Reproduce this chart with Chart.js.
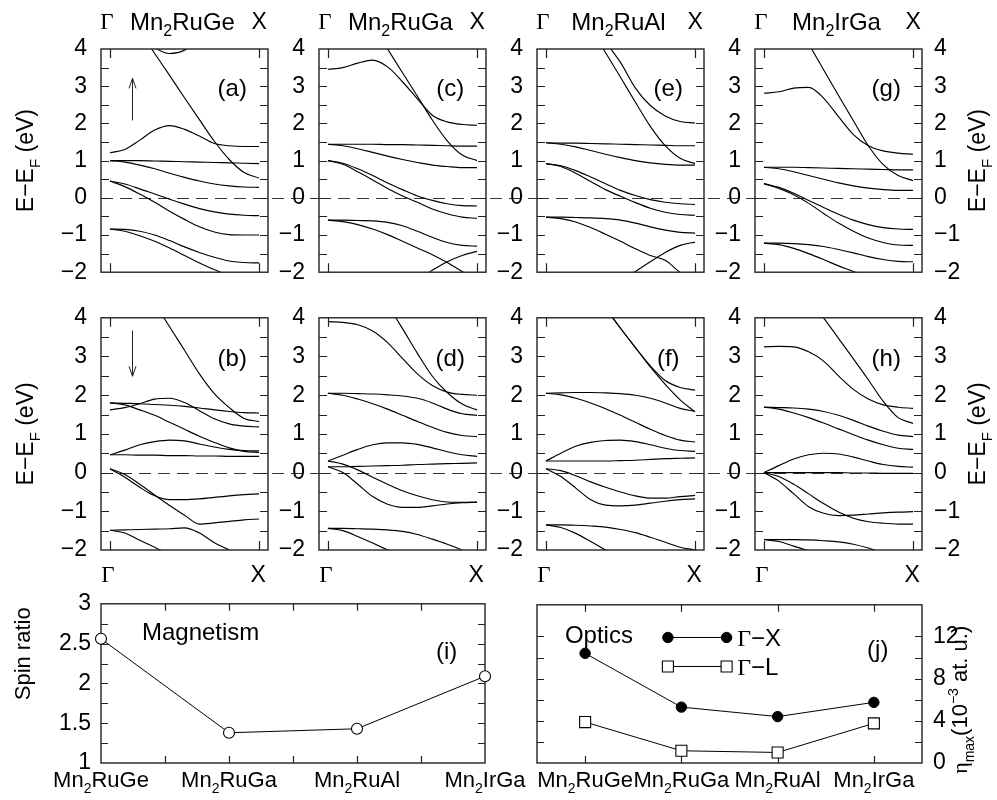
<!DOCTYPE html>
<html>
<head>
<meta charset="utf-8">
<script src="https://cdn.jsdelivr.net/npm/chart.js@4.4.1/dist/chart.umd.min.js"></script>
<style>
  body { margin: 0; background: #fff; }
  #fig { position: relative; width: 997px; height: 800px; overflow: hidden; }
  #fig canvas { position: absolute; }
</style>
</head>
<body>
<div id="fig"></div>
<script>
// k along the path, Gamma = 0, X = 1
var kPath = [0, 0.1, 0.2, 0.3, 0.4, 0.5, 0.6, 0.7, 0.8, 0.9, 1.0];

// band energies (eV), one row per band
var bandsA = [ // Mn2RuGe spin up
  [null, null, 4.4, 4.04, 3.88, 3.97, 4.3, null, null, null, null],
  [5.6, 5.06, 4.47, 3.88, 3.29, 2.69, 2.10, 1.52, 1.03, 0.68, 0.53],
  [1.21, 1.30, 1.55, 1.82, 1.94, 1.84, 1.66, 1.46, 1.40, 1.38, 1.38],
  [1.0, 1.0, 1.0, 0.99, 0.98, 0.97, 0.96, 0.95, 0.94, 0.93, 0.92],
  [1.0, 0.96, 0.88, 0.78, 0.66, 0.55, 0.45, 0.37, 0.32, 0.29, 0.28],
  [0.45, 0.37, 0.24, 0.10, -0.04, -0.17, -0.29, -0.38, -0.44, -0.47, -0.48],
  [0.45, 0.30, 0.10, -0.12, -0.36, -0.58, -0.78, -0.92, -0.99, -1.0, -1.0],
  [-0.84, -0.85, -0.90, -1.0, -1.15, -1.32, -1.47, -1.60, -1.70, -1.74, -1.75],
  [-0.84, -0.90, -1.02, -1.17, -1.35, -1.55, -1.75, -1.93, -2.10, -2.25, -2.35]
];
var bandsB = [ // Mn2RuGe spin down
  [null, 5.5, 4.95, 4.37, 3.77, 3.16, 2.55, 2.04, 1.68, 1.40, 1.32],
  [1.80, 1.79, 1.78, 1.76, 1.74, 1.71, 1.67, 1.62, 1.58, 1.55, 1.54],
  [1.62, 1.68, 1.78, 1.90, 1.92, 1.81, 1.60, 1.39, 1.26, 1.20, 1.18],
  [1.80, 1.75, 1.62, 1.48, 1.30, 1.12, 0.94, 0.78, 0.64, 0.55, 0.52],
  [0.46, 0.58, 0.72, 0.80, 0.84, 0.82, 0.74, 0.66, 0.60, 0.57, 0.56],
  [0.46, 0.46, 0.45, 0.45, 0.44, 0.44, 0.43, 0.43, 0.42, 0.42, 0.42],
  [0.10, -0.12, -0.38, -0.60, -0.70, -0.70, -0.68, -0.64, -0.60, -0.57, -0.55],
  [0.10, -0.05, -0.30, -0.58, -0.85, -1.10, -1.33, -1.30, -1.26, -1.22, -1.20],
  [-1.49, -1.48, -1.47, -1.46, -1.45, -1.43, -1.56, -1.81, -2.0, -2.2, null],
  [-1.49, -1.56, -1.75, -1.93, -2.12, null, null, null, null, null, null]
];
var bandsC = [ // Mn2RuGa spin up
  [3.45, 3.50, 3.62, 3.70, 3.52, 3.12, 2.66, 2.22, 2.04, 1.97, 1.95],
  [6.5, 5.88, 5.25, 4.63, 4.0, 3.36, 2.73, 2.09, 1.53, 1.15, 1.0],
  [1.44, 1.44, 1.44, 1.44, 1.43, 1.43, 1.42, 1.41, 1.40, 1.39, 1.39],
  [1.44, 1.40, 1.32, 1.22, 1.12, 1.03, 0.95, 0.88, 0.84, 0.81, 0.81],
  [1.0, 0.93, 0.78, 0.60, 0.40, 0.22, 0.05, -0.07, -0.16, -0.21, -0.22],
  [1.0, 0.90, 0.70, 0.48, 0.25, 0.05, -0.12, -0.30, -0.43, -0.52, -0.55],
  [-0.60, -0.60, -0.61, -0.62, -0.66, -0.75, -0.90, -1.06, -1.20, -1.28, -1.30],
  [-0.60, -0.64, -0.72, -0.84, -0.99, -1.17, -1.35, -1.53, -1.74, -1.98, -2.2],
  [null, null, null, null, null, null, -2.2, -1.95, -1.72, -1.55, -1.44]
];
var bandsD = [ // Mn2RuGa spin down
  [3.90, 3.88, 3.82, 3.66, 3.36, 2.95, 2.55, 2.25, 2.08, 2.02, 2.0],
  [null, null, 5.6, 5.0, 4.35, 3.72, 3.08, 2.49, 2.07, 1.77, 1.62],
  [2.05, 2.05, 2.04, 2.03, 2.01, 1.98, 1.92, 1.80, 1.64, 1.52, 1.48],
  [2.05, 2.0, 1.90, 1.78, 1.64, 1.48, 1.32, 1.17, 1.04, 0.96, 0.93],
  [0.30, 0.45, 0.60, 0.72, 0.77, 0.77, 0.73, 0.64, 0.54, 0.46, 0.42],
  [0.15, 0.15, 0.16, 0.17, 0.18, 0.19, 0.21, 0.22, 0.23, 0.24, 0.25],
  [0.30, 0.22, 0.07, -0.12, -0.30, -0.47, -0.60, -0.70, -0.76, -0.77, -0.76],
  [0.15, 0.0, -0.30, -0.62, -0.82, -0.90, -0.90, -0.86, -0.81, -0.78, -0.77],
  [-1.44, -1.44, -1.45, -1.46, -1.48, -1.52, -1.60, -1.72, -1.85, -2.0, -2.15],
  [-1.44, -1.50, -1.65, -1.82, -2.0, -2.2, null, null, null, null, null]
];
var bandsE = [ // Mn2RuAl spin up
  [6.6, 5.9, 5.24, 4.57, 3.9, 3.24, 2.57, 1.92, 1.40, 1.06, 0.92],
  [null, null, 5.5, 4.85, 4.2, 3.64, 2.95, 2.48, 2.2, 2.05, 2.01],
  [1.48, 1.47, 1.47, 1.46, 1.45, 1.44, 1.43, 1.42, 1.41, 1.40, 1.40],
  [1.48, 1.44, 1.37, 1.27, 1.17, 1.08, 1.0, 0.94, 0.90, 0.88, 0.88],
  [0.92, 0.86, 0.73, 0.56, 0.38, 0.20, 0.06, -0.05, -0.12, -0.16, -0.18],
  [0.92, 0.84, 0.66, 0.44, 0.22, 0.04, -0.13, -0.28, -0.39, -0.45, -0.47],
  [-0.52, -0.52, -0.53, -0.54, -0.56, -0.60, -0.68, -0.78, -0.87, -0.93, -0.95],
  [-0.52, -0.56, -0.65, -0.80, -0.98, -1.17, -1.37, -1.55, -1.68, -2.0, -2.2],
  [null, null, null, null, null, -2.25, -1.98, -1.72, -1.47, -1.28, -1.19]
];
var bandsF = [ // Mn2RuAl spin down
  [null, null, null, 4.8, 4.25, 3.73, 3.23, 2.73, 2.28, 1.88, 1.57],
  [null, null, null, 4.8, 4.25, 3.73, 3.23, 2.76, 2.38, 2.20, 2.13],
  [2.05, 2.06, 2.07, 2.07, 2.06, 2.04, 2.0, 1.92, 1.80, 1.66, 1.58],
  [2.05, 2.01, 1.92, 1.80, 1.65, 1.48, 1.30, 1.12, 0.96, 0.84, 0.79],
  [0.30, 0.50, 0.68, 0.78, 0.83, 0.84, 0.80, 0.72, 0.63, 0.57, 0.55],
  [0.30, 0.30, 0.30, 0.30, 0.30, 0.31, 0.32, 0.34, 0.36, 0.37, 0.38],
  [0.10, 0.05, -0.08, -0.24, -0.38, -0.50, -0.60, -0.66, -0.66, -0.62, -0.59],
  [0.10, -0.10, -0.40, -0.70, -0.84, -0.86, -0.84, -0.79, -0.74, -0.70, -0.68],
  [-1.35, -1.35, -1.36, -1.38, -1.41, -1.47, -1.55, -1.67, -1.80, -1.93, -2.0],
  [-1.35, -1.42, -1.57, -1.78, -2.0, -2.2, null, null, null, null, null]
];
var bandsG = [ // Mn2IrGa spin up
  [6.2, 5.52, 4.83, 4.14, 3.44, 2.75, 2.07, 1.40, 0.89, 0.60, 0.46],
  [2.81, 2.85, 2.95, 2.97, 2.68, 2.18, 1.70, 1.40, 1.26, 1.20, 1.17],
  [0.82, 0.82, 0.82, 0.81, 0.80, 0.79, 0.78, 0.77, 0.76, 0.75, 0.75],
  [0.82, 0.78, 0.70, 0.60, 0.50, 0.40, 0.32, 0.26, 0.22, 0.20, 0.20],
  [0.38, 0.28, 0.12, -0.07, -0.26, -0.44, -0.60, -0.72, -0.80, -0.84, -0.85],
  [0.38, 0.25, 0.08, -0.15, -0.42, -0.68, -0.90, -1.08, -1.20, -1.27, -1.28],
  [-1.22, -1.22, -1.23, -1.26, -1.31, -1.39, -1.48, -1.58, -1.66, -1.71, -1.72],
  [-1.22, -1.26, -1.36, -1.50, -1.66, -1.83, -1.98, -2.15, null, null, null]
];
var bandsH = [ // Mn2IrGa spin down
  [null, null, 5.0, 4.5, 4.0, 3.47, 2.94, 2.40, 1.84, 1.42, 1.27],
  [3.25, 3.26, 3.25, 3.12, 2.88, 2.50, 2.15, 1.90, 1.75, 1.69, 1.66],
  [1.69, 1.68, 1.67, 1.64, 1.58, 1.48, 1.35, 1.20, 1.07, 0.97, 0.93],
  [1.69, 1.64, 1.54, 1.42, 1.28, 1.13, 0.98, 0.84, 0.72, 0.63, 0.60],
  [0.0, 0.18, 0.35, 0.46, 0.50, 0.48, 0.40, 0.30, 0.21, 0.16, 0.14],
  [0.0, 0.0, 0.0, 0.0, 0.0, 0.0, -0.01, -0.01, -0.02, -0.02, -0.02],
  [0.0, -0.10, -0.30, -0.55, -0.80, -1.02, -1.18, -1.27, -1.31, -1.33, -1.33],
  [0.0, -0.22, -0.55, -0.88, -1.05, -1.11, -1.10, -1.07, -1.04, -1.02, -1.01],
  [-1.73, -1.73, -1.73, -1.74, -1.76, -1.79, -1.85, -1.95, -2.08, -2.2, null],
  [-1.73, -1.78, -1.90, -2.02, -2.15, null, null, null, null, null, null]
];

var compounds = ['Mn2RuGe', 'Mn2RuGa', 'Mn2RuAl', 'Mn2IrGa'];
var spinRatio = [2.56, 1.38, 1.43, 2.09];
var etaGX = [10.4, 5.3, 4.4, 5.75];
var etaGL = [3.88, 1.16, 1.0, 3.76];
var opticsLabels = ['\u0393\u2212X', '\u0393\u2212L'];

var SANS = '"Liberation Sans", Arial, Helvetica, sans-serif';
var SERIF = '"Liberation Serif", "Times New Roman", serif';
Chart.defaults.font.family = SANS;
Chart.defaults.color = '#000';

var fig = document.getElementById('fig');
function makeCanvas(left, top, w, h) {
  var c = document.createElement('canvas');
  c.width = w; c.height = h;
  c.style.left = left + 'px'; c.style.top = top + 'px';
  c.style.width = w + 'px'; c.style.height = h + 'px';
  fig.appendChild(c);
  return c;
}

// text with sub/superscripts, centred on (x, y)
function richText(ctx, parts, x, y, size, opts) {
  opts = opts || {};
  ctx.save();
  ctx.translate(x, y);
  if (opts.rotate) ctx.rotate(opts.rotate);
  ctx.fillStyle = '#000';
  ctx.textAlign = 'left';
  ctx.textBaseline = 'alphabetic';
  var ws = parts.map(function(p) {
    ctx.font = Math.round(size * (p.scale || 1)) + 'px ' + (p.family || SANS);
    return ctx.measureText(p.t).width;
  });
  var total = ws.reduce(function(s, w) { return s + w; }, 0);
  var cx = opts.align === 'left' ? 0 : -total / 2;
  parts.forEach(function(p, i) {
    ctx.font = Math.round(size * (p.scale || 1)) + 'px ' + (p.family || SANS);
    ctx.fillText(p.t, cx, size * 0.36 + (p.dy || 0) * size);
    cx += ws[i];
  });
  ctx.restore();
}
function formulaParts(name) {
  return name.split(/(\d+)/).filter(Boolean).map(function(s) {
    return /^\d+$/.test(s) ? {t: s, scale: 0.65, dy: 0.28} : {t: s};
  });
}
function gammaParts(label) {
  return [{t: label.charAt(0), family: SERIF}, {t: label.slice(1)}];
}
var eTitle = [{t: 'E\u2212E'}, {t: 'F', scale: 0.65, dy: 0.28}, {t: ' (eV)'}];

function intLabel(v) {
  return Math.abs(v - Math.round(v)) < 1e-6 ? String(Math.round(v)).replace('-', '\u2212') : '';
}

var bandDecor = {
  id: 'bandDecor',
  beforeDatasetsDraw: function(chart, args, o) {
    var ctx = chart.ctx, a = chart.chartArea;
    var y0 = Math.round(chart.scales.y.getPixelForValue(0)) + 0.5;
    ctx.save();
    ctx.strokeStyle = '#333';
    ctx.lineWidth = 1;
    ctx.setLineDash([12, 7]);
    ctx.beginPath();
    ctx.moveTo(a.left, y0);
    ctx.lineTo(a.right + o.extend, y0);
    ctx.stroke();
    ctx.restore();
  },
  afterDatasetsDraw: function(chart, args, o) {
    var ctx = chart.ctx, a = chart.chartArea, xs = chart.scales.x, ys = chart.scales.y;
    ctx.save();
    ctx.strokeStyle = '#222';
    ctx.lineWidth = 1.4;
    ctx.strokeRect(a.left, a.top, a.right - a.left, a.bottom - a.top);
    ctx.lineWidth = 1.2;
    ctx.beginPath();
    ys.ticks.forEach(function(t) {
      if (t.value <= ys.min || t.value >= ys.max) return;
      var py = Math.round(ys.getPixelForValue(t.value)) + 0.5;
      ctx.moveTo(a.left, py); ctx.lineTo(a.left + 8, py);
      ctx.moveTo(a.right, py); ctx.lineTo(a.right - 8, py);
    });
    var x0 = xs.getPixelForValue(kPath[0]), x1 = xs.getPixelForValue(kPath[kPath.length - 1]);
    [x0, x1].forEach(function(px) {
      px = Math.round(px) + 0.5;
      ctx.moveTo(px, a.top); ctx.lineTo(px, a.top + 9);
      ctx.moveTo(px, a.bottom); ctx.lineTo(px, a.bottom - 9);
    });
    ctx.stroke();

    if (o.row === 0) {
      var ty = a.top - 28;
      richText(ctx, [{t: '\u0393', family: SERIF}], x0 - 3, ty, 23);
      richText(ctx, formulaParts(o.name), (a.left + a.right) / 2 - 2, ty, 24);
      richText(ctx, [{t: 'X'}], x1, ty, 23);
    } else {
      var by = a.bottom + 24;
      richText(ctx, [{t: '\u0393', family: SERIF}], x0 - 2, by, 23);
      richText(ctx, [{t: 'X'}], x1 - 1, by, 23);
    }
    richText(ctx, [{t: o.tag}], xs.getPixelForValue(0.82), ys.getPixelForValue(2.98), 24);

    if (o.arrow) {
      var up = o.arrow === 'up';
      var ax = Math.round(xs.getPixelForValue(0.145)) + 0.5;
      var yTail = ys.getPixelForValue(up ? 2.08 : 3.67);
      var yHead = ys.getPixelForValue(up ? 3.21 : 2.49);
      var d = up ? 1 : -1;
      ctx.lineWidth = 1;
      ctx.beginPath();
      ctx.moveTo(ax, yTail); ctx.lineTo(ax, yHead);
      ctx.moveTo(ax - 3.5, yHead + d * 10); ctx.lineTo(ax, yHead); ctx.lineTo(ax + 3.5, yHead + d * 10);
      ctx.stroke();
    }
    var cy = (a.top + a.bottom) / 2;
    if (o.leftTitle) richText(ctx, eTitle, a.left - 76, cy, 23, {rotate: -Math.PI / 2});
    if (o.rightTitle) richText(ctx, eTitle, a.right + 55, cy, 23, {rotate: -Math.PI / 2});
    ctx.restore();
  }
};

var colLeft = [101, 319, 537, 755];
var rowTop = [49, 313];
var panelW = 167, panelH = 237;

var panels = [
  {bands: bandsA, name: compounds[0], tag: '(a)', col: 0, row: 0, arrow: 'up'},
  {bands: bandsB, name: compounds[0], tag: '(b)', col: 0, row: 1, arrow: 'down'},
  {bands: bandsC, name: compounds[1], tag: '(c)', col: 1, row: 0},
  {bands: bandsD, name: compounds[1], tag: '(d)', col: 1, row: 1},
  {bands: bandsE, name: compounds[2], tag: '(e)', col: 2, row: 0},
  {bands: bandsF, name: compounds[2], tag: '(f)', col: 2, row: 1},
  {bands: bandsG, name: compounds[3], tag: '(g)', col: 3, row: 0},
  {bands: bandsH, name: compounds[3], tag: '(h)', col: 3, row: 1}
];

function yTicks(pad) {
  return {stepSize: 0.5, autoSkip: false, padding: pad, color: '#000',
          font: {family: SANS, size: 23}, callback: intLabel};
}

panels.forEach(function(p) {
  var axisW = p.col === 0 ? 101 : 60;
  var last = p.col === 3;
  var rightW = last ? 75 : 51;
  var cTop = p.row === 0 ? 0 : 290;
  var cH = 300;
  var padTop = rowTop[p.row] - cTop;
  var canvas = makeCanvas(colLeft[p.col] - axisW, cTop, axisW + panelW + rightW, cH);

  var scales = {
    x: {type: 'linear', display: false, min: -0.06, max: 1.06},
    y: {position: 'left', min: -2, max: 4,
        afterFit: function(s) { s.width = axisW; },
        grid: {display: false, drawTicks: false}, border: {display: false},
        ticks: yTicks(14)}
  };
  if (last) {
    scales.y2 = {position: 'right', min: -2, max: 4,
        afterFit: function(s) { s.width = rightW; },
        grid: {display: false, drawTicks: false}, border: {display: false},
        ticks: yTicks(12)};
  }

  new Chart(canvas, {
    type: 'line',
    data: {
      datasets: p.bands.map(function(b) {
        return {
          data: kPath.map(function(k, i) { return {x: k, y: b[i]}; }),
          borderColor: '#000',
          borderWidth: 1.15,
          pointRadius: 0,
          fill: false,
          cubicInterpolationMode: 'monotone'
        };
      })
    },
    options: {
      responsive: false,
      animation: false,
      events: [],
      layout: {padding: {left: 0, right: last ? 0 : rightW, top: padTop, bottom: cH - padTop - panelH}},
      scales: scales,
      plugins: {
        legend: {display: false},
        tooltip: {enabled: false},
        bandDecor: {
          name: p.name, tag: p.tag, row: p.row, arrow: p.arrow || '',
          extend: last ? 0 : 51,
          leftTitle: p.col === 0, rightTitle: last
        }
      }
    },
    plugins: [bandDecor]
  });
});

// bottom panels: magnetism and optics
var propDecor = {
  id: 'propDecor',
  beforeDatasetsDraw: function(chart, args, o) {
    var ctx = chart.ctx, a = chart.chartArea, xs = chart.scales.x, ys = chart.scales.y;
    ctx.save();
    ctx.strokeStyle = '#222';
    ctx.lineWidth = 1.4;
    ctx.strokeRect(a.left, a.top, a.right - a.left, a.bottom - a.top);
    ctx.lineWidth = 1.2;
    ctx.beginPath();
    ys.ticks.forEach(function(t) {
      if (t.value <= ys.min || t.value >= ys.max) return;
      if (Math.abs(t.value / o.yTickStep - Math.round(t.value / o.yTickStep)) > 1e-6) return;
      var py = Math.round(ys.getPixelForValue(t.value)) + 0.5;
      ctx.moveTo(a.left, py); ctx.lineTo(a.left + 7, py);
      ctx.moveTo(a.right, py); ctx.lineTo(a.right - 7, py);
    });
    for (var v = 0; v <= compounds.length - 1 + 1e-6; v += o.xTickStep) {
      if (v <= xs.min || v >= xs.max) continue;
      var px = Math.round(xs.getPixelForValue(v)) + 0.5;
      ctx.moveTo(px, a.top); ctx.lineTo(px, a.top + 7);
      ctx.moveTo(px, a.bottom); ctx.lineTo(px, a.bottom - 7);
    }
    ctx.stroke();
    ctx.restore();
  },
  afterDatasetsDraw: function(chart, args, o) {
    var ctx = chart.ctx, a = chart.chartArea, xs = chart.scales.x, ys = chart.scales.y;
    compounds.forEach(function(c, i) {
      richText(ctx, formulaParts(c), xs.getPixelForValue(i), a.bottom + 16, 22);
    });
    richText(ctx, [{t: o.text}], xs.getPixelForValue(o.textX), ys.getPixelForValue(o.textY), 24, {align: 'left'});
    richText(ctx, [{t: o.tag}], xs.getPixelForValue(o.tagX), ys.getPixelForValue(o.tagY), 24);
    if (o.legend) {
      chart.data.datasets.forEach(function(ds, i) {
        var ly = ys.getPixelForValue(o.legendY[i]);
        var lx0 = xs.getPixelForValue(o.legendX0), lx1 = xs.getPixelForValue(o.legendX1);
        ctx.save();
        ctx.strokeStyle = ds.borderColor;
        ctx.lineWidth = ds.borderWidth;
        ctx.beginPath(); ctx.moveTo(lx0, ly); ctx.lineTo(lx1, ly); ctx.stroke();
        [lx0, lx1].forEach(function(mx) {
          ctx.fillStyle = ds.pointBackgroundColor;
          ctx.lineWidth = ds.pointBorderWidth;
          ctx.beginPath();
          if (ds.pointStyle === 'rect') {
            var h = ds.pointRadius * Math.SQRT1_2;
            ctx.rect(mx - h, ly - h, 2 * h, 2 * h);
          } else {
            ctx.arc(mx, ly, ds.pointRadius, 0, Math.PI * 2);
          }
          ctx.fill(); ctx.stroke();
        });
        ctx.restore();
        richText(ctx, gammaParts(ds.label), xs.getPixelForValue(o.legendText), ly, 24, {align: 'left'});
      });
    }
    if (o.title === 'spin') {
      richText(ctx, [{t: 'Spin ratio'}], 22, a.top + 50, 22, {rotate: -Math.PI / 2});
    } else if (o.title === 'eta') {
      richText(ctx, [{t: '\u03b7', family: SERIF}, {t: 'max', scale: 0.65, dy: 0.3}, {t: '(10'},
                     {t: '\u22123', scale: 0.65, dy: -0.42}, {t: ' at. u.)'}],
               a.right + 37, a.top + 95, 22, {rotate: -Math.PI / 2});
    }
  }
};

var canvasI = makeCanvas(0, 580, 540, 220);
new Chart(canvasI, {
  type: 'line',
  data: {
    datasets: [{
      label: 'Spin ratio',
      data: spinRatio.map(function(v, i) { return {x: i, y: v}; }),
      borderColor: '#000', borderWidth: 1,
      pointRadius: 5.5, pointBackgroundColor: '#fff', pointBorderColor: '#000', pointBorderWidth: 1.1,
      tension: 0, clip: false
    }]
  },
  options: {
    responsive: false, animation: false, events: [],
    layout: {padding: {left: 0, right: 55, top: 13, bottom: 37}},
    scales: {
      x: {type: 'linear', display: false, min: 0, max: 3},
      y: {position: 'left', min: 1, max: 3,
          afterFit: function(s) { s.width = 101; },
          grid: {display: false, drawTicks: false}, border: {display: false},
          ticks: {stepSize: 0.25, autoSkip: false, padding: 10, color: '#000', font: {family: SANS, size: 23},
                  callback: function(v) { return Math.abs(v * 2 - Math.round(v * 2)) < 1e-6 ? String(v) : ''; }}}
    },
    plugins: {
      legend: {display: false}, tooltip: {enabled: false},
      propDecor: {xTickStep: 0.5, yTickStep: 0.25, text: 'Magnetism', textX: 0.32, textY: 2.65,
                  tag: '(i)', tagX: 2.7, tagY: 2.41, legend: false, title: 'spin'}
    }
  },
  plugins: [propDecor]
});

var canvasJ = makeCanvas(500, 580, 497, 220);
new Chart(canvasJ, {
  type: 'line',
  data: {
    datasets: [{
      label: opticsLabels[0],
      data: etaGX.map(function(v, i) { return {x: i, y: v}; }),
      borderColor: '#000', borderWidth: 1,
      pointStyle: 'circle', pointRadius: 5.2, pointBackgroundColor: '#000', pointBorderColor: '#000', pointBorderWidth: 1,
      tension: 0, clip: false
    }, {
      label: opticsLabels[1],
      data: etaGL.map(function(v, i) { return {x: i, y: v}; }),
      borderColor: '#000', borderWidth: 1,
      pointStyle: 'rect', pointRadius: 7.8, pointBackgroundColor: '#fff', pointBorderColor: '#000', pointBorderWidth: 1.1,
      tension: 0, clip: false
    }]
  },
  options: {
    responsive: false, animation: false, events: [],
    layout: {padding: {left: 37, right: 0, top: 13, bottom: 37}},
    scales: {
      x: {type: 'linear', display: false, min: -0.5, max: 3.5},
      y: {position: 'right', min: 0, max: 15,
          afterFit: function(s) { s.width = 75; },
          grid: {display: false, drawTicks: false}, border: {display: false},
          ticks: {stepSize: 2, autoSkip: false, padding: 11, color: '#000', font: {family: SANS, size: 23},
                  callback: function(v) { return v % 4 === 0 ? String(v) : ''; }}}
    },
    plugins: {
      legend: {display: false}, tooltip: {enabled: false},
      propDecor: {xTickStep: 1, yTickStep: 2, text: 'Optics', textX: -0.21, textY: 12.2,
                  tag: '(j)', tagX: 3.04, tagY: 10.85, legend: true,
                  legendX0: 0.86, legendX1: 1.47, legendText: 1.58, legendY: [11.9, 9.15], title: 'eta'}
    }
  },
  plugins: [propDecor]
});
</script>
</body>
</html>
